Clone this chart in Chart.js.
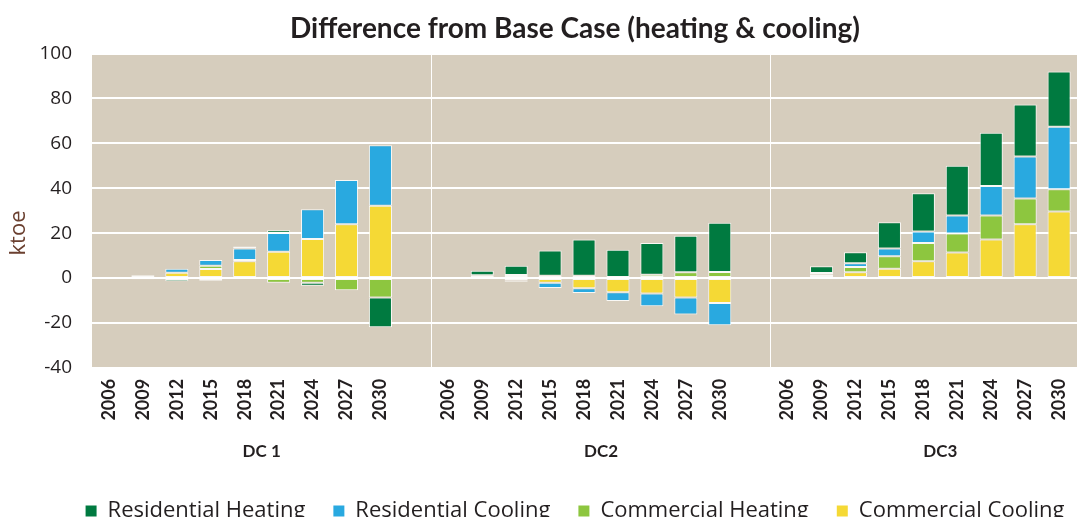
<!DOCTYPE html>
<html>
<head>
<meta charset="utf-8">
<script src="https://cdn.jsdelivr.net/npm/chart.js@4/dist/chart.umd.min.js"></script>
<style>
  html, body { margin: 0; padding: 0; background: #fff; overflow: hidden; }
  #wrap { position: absolute; left: 0; top: 0; width: 1150px; height: 532px; }
</style>
</head>
<body>
<div id="wrap"><canvas id="chart" width="1150" height="532"></canvas></div>
<script>
// years shown under every panel, panels in order
const years = ["2006", "2009", "2012", "2015", "2018", "2021", "2024", "2027", "2030"];
const groups = ["DC 1", "DC2", "DC3"];

// ktoe, one value per year
const dc1ResHeat = [0, 0, -1.4, -1.2, 0.9, 1.2, -1.3, 0, -13.2];
const dc1ResCool = [0, 0.9, 1.8, 2.6, 5.1, 8.4, 13.2, 19.7, 27.0];
const dc1ComHeat = [0, -0.5, 0, 1.5, 0.6, -2.1, -2.1, -5.4, -8.7];
const dc1ComCool = [0, 0.4, 2.4, 4.0, 7.5, 11.7, 17.4, 24.0, 32.2];

const dc2ResHeat = [0, 2.1, 4.1, 11.3, 16.2, 12.6, 14.1, 16.3, 21.9];
const dc2ResCool = [0, 0, -0.6, -2.3, -2.2, -3.9, -5.7, -7.5, -9.9];
const dc2ComHeat = [0, 1.2, 1.4, 1.0, 1.0, 0, 1.5, 2.6, 2.7];
const dc2ComCool = [0, -0.4, -1.1, -2.1, -4.5, -6.3, -6.9, -8.7, -11.1];

const dc3ResHeat = [0, 3.0, 4.9, 11.7, 17.1, 22.1, 23.7, 23.1, 24.6];
const dc3ResCool = [0, 0.7, 1.7, 3.5, 5.1, 8.1, 13.1, 18.8, 27.8];
const dc3ComHeat = [0, 0.7, 2.3, 5.5, 8.1, 8.4, 10.7, 11.4, 9.9];
const dc3ComCool = [0, 0.9, 2.6, 4.2, 7.5, 11.4, 17.2, 24.0, 29.7];

const yTicks = [-40, -20, 0, 20, 40, 60, 80, 100];

// each panel gets an empty slot after its last year
const labels = groups.flatMap(() => [...years, ""]);
const joinPanels = (a, b, c) => [...a, null, ...b, null, ...c, null];

const bgPlugin = {
  id: "plotBg",
  beforeDraw(chart) {
    const { ctx, chartArea: a } = chart;
    ctx.save();
    ctx.fillStyle = "#d6cdbd";
    ctx.fillRect(a.left, a.top, a.right - a.left, a.bottom - a.top);
    ctx.restore();
  }
};

// y title sits a bit below the middle in the original
const unitPlugin = {
  id: "unitLabel",
  afterDraw(chart) {
    const ctx = chart.ctx;
    ctx.save();
    ctx.translate(19, 233);
    ctx.rotate(-Math.PI / 2);
    ctx.font = "22px 'Open Sans'";
    ctx.fillStyle = "#6b4030";
    ctx.textAlign = "center";
    ctx.textBaseline = "middle";
    ctx.fillText("ktoe", 0, 0);
    ctx.restore();
  }
};

const noZeroBorder = (c) => (c.raw === 0 ? 0 : 1);

function series(label, data, color) {
  return {
    label: label,
    data: data,
    backgroundColor: color,
    borderColor: "rgba(255,255,255,0.85)",
    borderWidth: noZeroBorder,
    borderSkipped: false,
    stack: "s",
    categoryPercentage: 1,
    barPercentage: 0.68
  };
}

new Chart(document.getElementById("chart"), {
  type: "bar",
  data: {
    labels: labels,
    datasets: [
      series("Commercial Cooling", joinPanels(dc1ComCool, dc2ComCool, dc3ComCool), "#f5d935"),
      series("Commercial Heating", joinPanels(dc1ComHeat, dc2ComHeat, dc3ComHeat), "#8dc63f"),
      series("Residential Cooling", joinPanels(dc1ResCool, dc2ResCool, dc3ResCool), "#29a9e0"),
      series("Residential Heating", joinPanels(dc1ResHeat, dc2ResHeat, dc3ResHeat), "#007a40")
    ]
  },
  options: {
    responsive: false,
    animation: false,
    devicePixelRatio: 1,
    layout: { padding: { left: 40, right: 40, top: 0, bottom: 0 } },
    plugins: {
      title: {
        display: true,
        text: "Difference from Base Case (heating & cooling)",
        color: "#231f20",
        font: { family: "Lato", size: 28, weight: "bold" },
        padding: { top: 12, bottom: 8 }
      },
      legend: {
        position: "bottom",
        reverse: true,
        labels: {
          color: "#231f20",
          font: { family: "Open Sans", size: 22 },
          boxWidth: 11,
          boxHeight: 11,
          padding: 28
        }
      },
      tooltip: { enabled: false }
    },
    scales: {
      x: {
        stacked: true,
        grid: {
          offset: true,
          drawTicks: false,
          lineWidth: 1,
          color: (c) => (c.index === 10 || c.index === 20 ? "#ffffff" : "rgba(0,0,0,0)")
        },
        border: { display: false },
        ticks: {
          color: "#231f20",
          font: { family: "Lato", size: 18, weight: "bold" },
          minRotation: 90,
          maxRotation: 90,
          autoSkip: false,
          padding: 11
        }
      },
      x2: {
        type: "category",
        labels: groups,
        position: "bottom",
        offset: true,
        grid: { display: false, drawTicks: false },
        border: { display: false },
        ticks: {
          color: "#231f20",
          font: { family: "Lato", size: 17, weight: "bold" },
          padding: 10
        }
      },
      y: {
        stacked: true,
        min: -40,
        max: 100,
        afterBuildTicks: (axis) => { axis.ticks = yTicks.map(v => ({ value: v })); },
        afterFit: (axis) => { axis.width = 52; },
        grid: { color: "#ffffff", lineWidth: 2, drawTicks: false },
        border: { display: false },
        ticks: {
          color: "#231f20",
          font: { family: "Open Sans", size: 19 },
          padding: 20
        }
      }
    }
  },
  plugins: [bgPlugin, unitPlugin]
});
</script>
</body>
</html>
